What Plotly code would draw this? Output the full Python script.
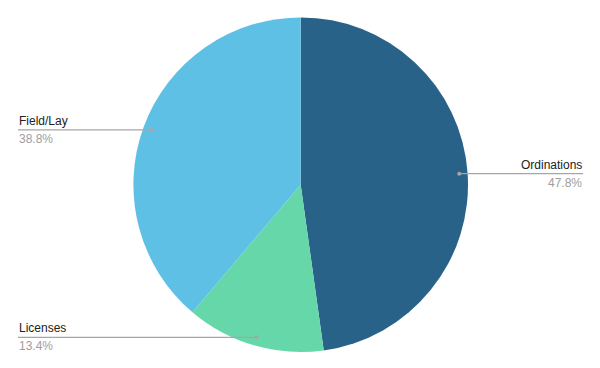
import math
import plotly.graph_objects as go

labels = ["Ordinations", "Licenses", "Field/Lay"]
values = [47.8, 13.4, 38.8]
colors = ["#296288", "#66d7a8", "#5fc0e6"]
label_side = ["right", "left", "left"]

W, H = 600, 368
cx, cy, R = 300.7, 184.7, 167.3  # pixel center/radius of pie

fig = go.Figure(go.Pie(
    labels=labels, values=values, sort=False, direction="clockwise", rotation=0,
    marker=dict(colors=colors, line=dict(width=0)),
    textinfo="none", hoverinfo="label+percent", showlegend=False,
    domain=dict(x=[(cx - R) / W, (cx + R) / W], y=[(H - cy - R) / H, (H - cy + R) / H]),
))

def px(x):
    return x / W

def py(y):
    return (H - y) / H

total = sum(values)
cum = 0
shapes, annots = [], []
for lab, v, side in zip(labels, values, label_side):
    mid = (cum + v / 2) / total * 2 * math.pi
    cum += v
    dx = math.sin(mid) * R * 0.95
    dy = -math.cos(mid) * R * 0.95
    x0, y0 = cx + dx, cy + dy
    xe = 583 if side == "right" else 18
    shapes.append(dict(type="line", xref="paper", yref="paper",
                       x0=px(x0), y0=py(y0), x1=px(xe), y1=py(y0),
                       line=dict(color="#a6a6a6", width=1.3)))
    shapes.append(dict(type="circle", xref="paper", yref="paper",
                       x0=px(x0 - 2), x1=px(x0 + 2), y0=py(y0 - 2), y1=py(y0 + 2),
                       fillcolor="#a6a6a6", line=dict(width=0)))
    anchor = "right" if side == "right" else "left"
    annots.append(dict(xref="paper", yref="paper", x=px(xe), y=py(y0 - 1), text=lab,
                       showarrow=False, xanchor=anchor, yanchor="bottom",
                       font=dict(family="Liberation Sans, Arial", size=12, color="#222222"),
                       borderpad=0))
    annots.append(dict(xref="paper", yref="paper", x=px(xe), y=py(y0 + 1), text=f"{v}%",
                       showarrow=False, xanchor=anchor, yanchor="top",
                       font=dict(family="Liberation Sans, Arial", size=12, color="#9e9e9e"),
                       borderpad=0))

fig.update_layout(width=W, height=H, margin=dict(l=0, r=0, t=0, b=0),
                  paper_bgcolor="white", plot_bgcolor="white",
                  shapes=shapes, annotations=annots)
fig.write_html("out.html")
